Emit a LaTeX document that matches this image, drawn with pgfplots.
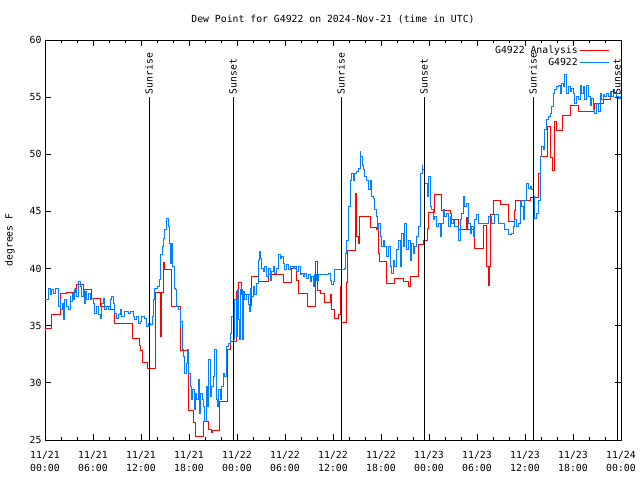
\documentclass[border=0pt]{standalone}
\usepackage{pgfplots}
\pgfplotsset{compat=1.18}
\usepackage{fontspec}
\setmainfont{DejaVu Sans Mono}
\definecolor{obsblue}{RGB}{0,128,255}
\definecolor{anared}{RGB}{255,0,0}
\pgfplotsset{
  redleg/.style={legend image code/.code={\draw[anared, line width=1pt] (0pt,0pt) -- (29pt,0pt);}},
  blueleg/.style={legend image code/.code={\draw[obsblue, line width=1pt] (0pt,0pt) -- (29pt,0pt);}},
}
\pgfplotstableread{
h v
0 34.6
0.1 34.8
0.83 36.0
1.88 37.8
2.71 37.9
3.83 38.3
3.92 38.6
4.79 38.2
5.83 37.4
6.88 36.7
8.13 36.4
8.75 35.2
10.96 33.9
11.79 33.3
12.0 32.8
12.17 31.8
12.83 31.3
13.83 37.9
14.5 34.1
14.56 37.9
14.79 40.5
14.88 39.9
15.83 36.7
16.88 32.8
17.92 27.6
18.54 26.5
18.83 25.3
19.8 26.6
20.4 25.9
20.8 25.7
21.0 25.8
21.8 28.4
22.8 32.9
23.2 33.6
23.92 38.0
24.17 38.8
24.58 37.7
25.63 36.8
25.83 39.35
26.67 38.9
27.92 39.5
29.79 38.8
30.83 40.0
31.46 39.0
31.75 37.8
32.83 36.7
33.83 40.6
34.08 38.1
34.4 37.8
34.92 37.05
35.71 37.7
35.83 36.4
36.17 35.65
36.67 35.95
36.88 38.4
37.08 35.3
37.63 38.8
37.83 41.6
38.83 46.6
38.9 42.8
38.95 46.6
39.0 42.8
39.17 42.2
39.29 44.6
40.63 43.6
41.46 43.4
41.67 41.3
41.79 40.6
42.71 38.7
43.75 39.1
44.79 38.9
45.42 38.4
45.75 39.35
46.67 42.15
47.29 42.5
47.83 43.5
47.96 44.9
48.7 46.5
49.58 45.1
50.63 44.8
50.83 44.3
51.67 43.4
52.71 44.5
52.8 43.4
53.75 41.8
54.79 43.8
55.21 40.2
55.42 38.5
55.54 40.2
55.75 44.7
56.04 46.0
57.0 45.6
57.92 44.1
58.67 45.1
58.83 46.0
60.75 46.2
61.67 48.3
61.88 49.85
62.83 52.4
63.25 49.7
63.42 48.6
63.67 52.9
63.88 52.1
64.67 53.35
65.71 54.3
66.67 53.7
68.75 54.4
69.79 54.75
70.63 55.5
71.25 55.3
72 55.4
}\anatable
\pgfplotstableread{
h v
0 37.3
0.21 37.27
0.42 38.29
0.63 37.71
0.83 38.15
1.04 37.86
1.25 38.29
1.58 38.29
1.67 36.69
1.88 37.27
2.0 36.4
2.17 36.98
2.33 35.52
2.5 37.27
2.71 36.69
2.92 36.4
3.13 37.57
3.25 37.13
3.42 37.86
3.58 37.27
3.75 38.15
3.96 37.57
4.17 38.88
4.38 38.44
4.58 37.57
4.79 38.15
4.92 36.98
5.08 38.0
5.25 37.27
5.42 37.86
5.63 37.27
5.83 37.42
6.04 36.98
6.25 36.11
6.46 36.69
6.67 35.96
6.88 35.67
7.08 36.98
7.29 37.42
7.5 36.4
7.71 36.69
7.92 36.4
8.13 37.27
8.33 37.57
8.54 36.98
8.75 36.11
8.96 35.67
9.17 35.96
9.38 36.4
9.58 35.82
10.0 36.25
10.42 36.11
10.75 36.25
11.04 35.82
11.25 35.52
11.46 35.82
11.67 35.23
11.88 35.38
12.08 35.82
12.5 35.67
12.71 34.94
12.92 35.17
13.25 35.09
13.42 35.82
13.54 37.27
13.75 38.29
14.08 38.44
14.29 39.02
14.5 41.21
14.67 41.94
14.83 42.67
15.0 43.4
15.13 43.98
15.25 44.42
15.42 43.69
15.58 42.23
15.71 40.48
15.83 42.23
15.96 40.19
16.17 38.29
16.33 38.15
16.46 36.69
16.67 36.4
16.88 34.94
17.0 35.38
17.17 32.9
17.29 32.32
17.5 30.86
17.67 31.73
17.83 32.9
18.0 30.86
18.17 29.69
18.33 28.53
18.5 29.4
18.67 27.65
18.83 29.11
19.0 28.53
19.17 30.28
19.33 27.36
19.5 29.11
19.67 28.53
19.83 27.94
20.0 26.6
20.17 29.69
20.33 27.94
20.5 32.03
20.67 28.82
20.83 29.69
21.04 30.57
21.25 32.9
21.42 28.53
21.58 27.94
21.75 29.4
21.92 28.53
22.08 29.69
22.29 30.86
22.5 30.57
22.71 33.19
22.92 33.48
23.13 34.36
23.33 35.82
23.54 33.78
23.75 37.26
23.88 34.05
24.04 38.13
24.17 35.51
24.33 33.76
24.5 38.13
24.67 33.76
24.79 37.98
25.0 37.26
25.21 37.69
25.42 36.82
25.54 36.24
25.71 38.28
25.83 37.55
26.04 38.42
26.25 37.69
26.46 38.71
26.67 40.75
26.79 41.48
26.96 40.9
27.08 40.03
27.29 39.73
27.5 40.17
27.71 39.3
27.92 40.03
28.13 39.0
28.33 39.73
28.54 40.17
28.75 39.59
28.96 40.03
29.17 41.19
29.38 40.9
29.58 41.05
29.79 40.46
30.0 39.88
30.21 40.32
30.42 39.88
30.63 40.17
31.04 40.03
31.25 40.17
31.46 39.73
31.67 40.17
31.88 39.44
32.08 39.59
32.29 39.3
32.5 39.59
32.71 39.15
32.92 39.44
33.13 38.86
33.33 39.3
33.54 38.42
33.75 39.44
33.96 39.0
34.17 39.44
35.0 39.44
35.42 39.59
35.63 39.0
35.83 38.57
36.04 38.86
36.25 39.88
36.67 39.94
37.42 40.03
37.58 41.34
37.75 42.5
37.92 45.42
38.13 47.75
38.33 48.33
38.54 47.75
38.75 48.33
38.96 48.48
39.17 48.77
39.38 50.23
39.5 49.79
39.67 49.06
39.79 48.63
40.0 48.04
40.21 47.75
40.42 46.88
40.63 47.75
40.83 46.29
41.04 46.15
41.25 45.13
41.46 44.54
41.58 43.38
41.75 43.96
41.92 42.8
42.08 41.92
42.29 42.5
42.5 41.92
42.71 41.05
42.92 41.92
43.13 40.17
43.33 39.59
43.54 40.75
43.75 40.17
43.96 41.63
44.17 42.5
44.38 40.17
44.58 43.09
44.79 41.92
45.0 43.96
45.21 41.63
45.42 42.5
45.63 40.75
45.83 42.21
46.04 41.34
46.25 41.92
46.46 42.8
46.67 43.67
46.88 46.0
47.0 48.33
47.13 49.06
47.25 48.63
47.38 48.92
47.5 47.46
47.63 47.46
47.83 46.3
48.0 48.05
48.17 45.42
48.33 45.13
48.54 44.26
48.75 44.55
48.96 43.67
49.17 43.96
49.38 42.8
49.58 43.96
49.79 45.13
50.0 44.55
50.21 44.84
50.42 43.67
50.63 44.55
50.83 43.96
51.04 44.26
51.25 43.67
51.67 42.5
51.88 44.26
52.08 44.84
52.29 46.3
52.5 45.42
52.71 45.71
52.92 43.96
53.13 43.09
53.33 43.67
53.54 42.8
53.75 44.26
53.96 44.69
54.17 43.96
54.58 43.96
55.42 44.55
55.83 43.96
56.25 44.69
56.67 43.96
57.5 43.38
57.92 42.94
58.33 43.09
58.54 43.67
58.75 44.26
58.96 43.67
59.17 43.96
59.38 46.0
59.58 45.42
59.79 44.26
60.0 46.0
60.21 47.46
60.42 47.03
60.63 47.17
60.83 46.88
61.04 46.3
61.25 44.4
61.46 44.84
61.67 46.0
61.88 49.8
62.08 50.67
62.29 50.38
62.5 52.13
62.71 53.0
62.92 53.29
63.13 53.59
63.33 54.17
63.54 55.33
63.75 55.63
63.96 55.92
64.17 56.06
64.38 55.33
64.58 56.21
64.79 55.92
65.0 56.94
65.21 55.33
65.42 55.92
65.63 55.48
65.83 55.77
66.04 55.33
66.25 54.46
66.46 55.04
66.67 54.75
66.88 56.06
67.08 55.33
67.29 55.92
67.5 54.75
67.71 56.06
67.92 55.04
68.13 54.31
68.33 54.9
68.54 53.88
68.75 53.59
68.96 54.46
69.17 53.73
69.38 55.33
69.58 54.75
69.79 55.19
70.0 55.04
70.21 55.33
70.42 55.04
70.63 55.48
70.83 55.04
71.04 55.63
71.25 55.33
71.46 55.04
71.67 54.9
71.88 55.04
72.0 54.9
}\obstable
\begin{document}
\begin{tikzpicture}[x=1pt,y=1pt]
\useasboundingbox (0,0) rectangle (640,480);
\begin{axis}[
  at={(45pt,40pt)}, anchor=south west,
  scale only axis, width=576pt, height=400pt,
  xmin=0, xmax=72, ymin=25, ymax=60,
  clip=false,
  font=\fontsize{9.8}{13}\selectfont,
  xtick={0,6,...,72},
  xticklabels={{11/21\\00:00},{11/21\\06:00},{11/21\\12:00},{11/21\\18:00},{11/22\\00:00},{11/22\\06:00},{11/22\\12:00},{11/22\\18:00},{11/23\\00:00},{11/23\\06:00},{11/23\\12:00},{11/23\\18:00},{11/24\\00:00}},
  xticklabel style={align=center, font=\fontsize{9.8}{13}\selectfont, yshift=-8pt},
  minor x tick num=2,
  ytick={25,30,...,60},
  yticklabel style={font=\fontsize{9.8}{13}\selectfont, /pgf/number format/assume math mode=true},
  tick align=inside,
  major tick length=6pt, minor tick length=3pt,
  tick style={black, line width=0.8pt},
  axis line style={line width=0.8pt},
  ylabel={degrees F},
  ylabel style={at={(axis description cs:-0.0608,0.5)}, anchor=center},
  title={Dew Point for G4922 on 2024-Nov-21 (time in UTC)},
  title style={at={(0.5,1)}, anchor=base, yshift=11pt, font=\fontsize{9.8}{13}\selectfont},
  legend style={at={(1,1)}, anchor=north east, draw=none, fill=none, xshift=-8pt, yshift=-2pt,
    font=\fontsize{9.8}{12}\selectfont, row sep=-1pt},
  legend cell align=right,
  legend plot pos=right,
]
\addplot[const plot, color=anared, line width=1pt, redleg] table[x=h, y=v] {\anatable};
\addlegendentry{G4922 Analysis}
\addplot[const plot, color=obsblue, line width=1pt, blueleg] table[x=h, y=v] {\obstable};
\addlegendentry{G4922}
\foreach \t/\lab in {13/Sunrise, 23.5/Sunset, 37/Sunrise, 47.375/Sunset, 61/Sunrise, 71.5/Sunset} {
  \edef\tmp{\noexpand\draw[black, line width=0.8pt] (axis cs:\t,25) -- (axis cs:\t,55);
    \noexpand\node[rotate=90, anchor=west, inner sep=2pt, font=\noexpand\fontsize{9.8}{12}\noexpand\selectfont] at (axis cs:\t,55.05) {\lab};}
  \tmp
}
\end{axis}
\end{tikzpicture}
\end{document}
